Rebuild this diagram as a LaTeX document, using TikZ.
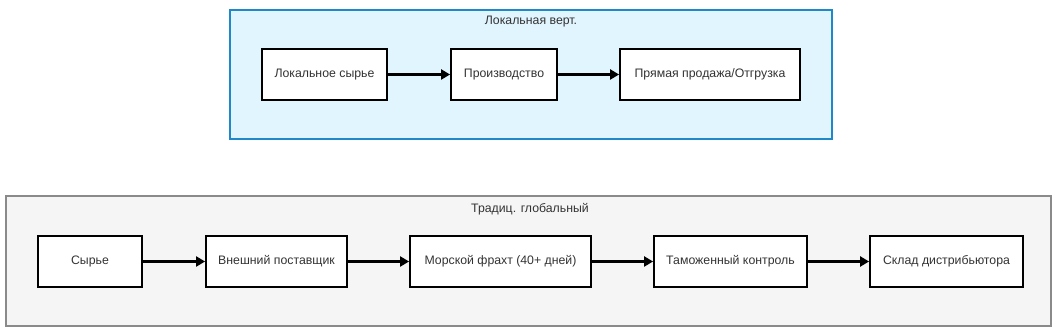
\documentclass[tikz,border=0pt]{standalone}
\usepackage{fontspec}
\setmainfont{Liberation Sans}
\usetikzlibrary{arrows.meta}
\definecolor{locfill}{HTML}{E1F5FE}
\definecolor{locdraw}{HTML}{1E88C8}
\definecolor{glofill}{HTML}{F5F5F5}
\definecolor{glodraw}{HTML}{8A8A8A}
\definecolor{txt}{HTML}{333333}
\tikzset{
  stepbox/.style={draw=black, line width=1.8pt, fill=white, text=txt, font=\fontsize{12.3}{14}\selectfont},
  flow/.style={draw=black, line width=2.2pt, -{Triangle[length=9pt,width=10pt]}},
  grouptitle/.style={text=txt, font=\fontsize{12.3}{14}\selectfont}
}
\begin{document}
\begin{tikzpicture}[x=1pt,y=-1pt]
\useasboundingbox (0,0) rectangle (1062,336);
% containers
\path[fill=locfill, draw=locdraw, line width=1.6pt] (230,10) rectangle (832,139);
\node[grouptitle] (tloc) at (531,22) {Локальная верт.};
\path[fill=glofill, draw=glodraw, line width=1.2pt] (6,196) rectangle (1051,326);
\node[grouptitle] (tglo) at (530,209) {Традиц. глобальный};
% top row
\node[stepbox, minimum width=125pt, minimum height=51pt] (a1) at (324.5,74.5) {Локальное сырье};
\node[stepbox, minimum width=106pt, minimum height=51pt] (a2) at (504,74.5) {Производство};
\node[stepbox, minimum width=180pt, minimum height=51pt] (a3) at (710,74.5) {Прямая продажа/Отгрузка};
\draw[flow] (a1) -- (a2);
\draw[flow] (a2) -- (a3);
% bottom row
\node[stepbox, minimum width=104pt, minimum height=51pt] (b1) at (90,261.5) {Сырье};
\node[stepbox, minimum width=141pt, minimum height=51pt] (b2) at (276.5,261.5) {Внешний поставщик};
\node[stepbox, minimum width=181pt, minimum height=51pt] (b3) at (500.5,261.5) {Морской фрахт (40+ дней)};
\node[stepbox, minimum width=153pt, minimum height=51pt] (b4) at (730.5,261.5) {Таможенный контроль};
\node[stepbox, minimum width=153pt, minimum height=51pt] (b5) at (946.5,261.5) {Склад дистрибьютора};
\draw[flow] (b1) -- (b2);
\draw[flow] (b2) -- (b3);
\draw[flow] (b3) -- (b4);
\draw[flow] (b4) -- (b5);
\end{tikzpicture}
\end{document}
